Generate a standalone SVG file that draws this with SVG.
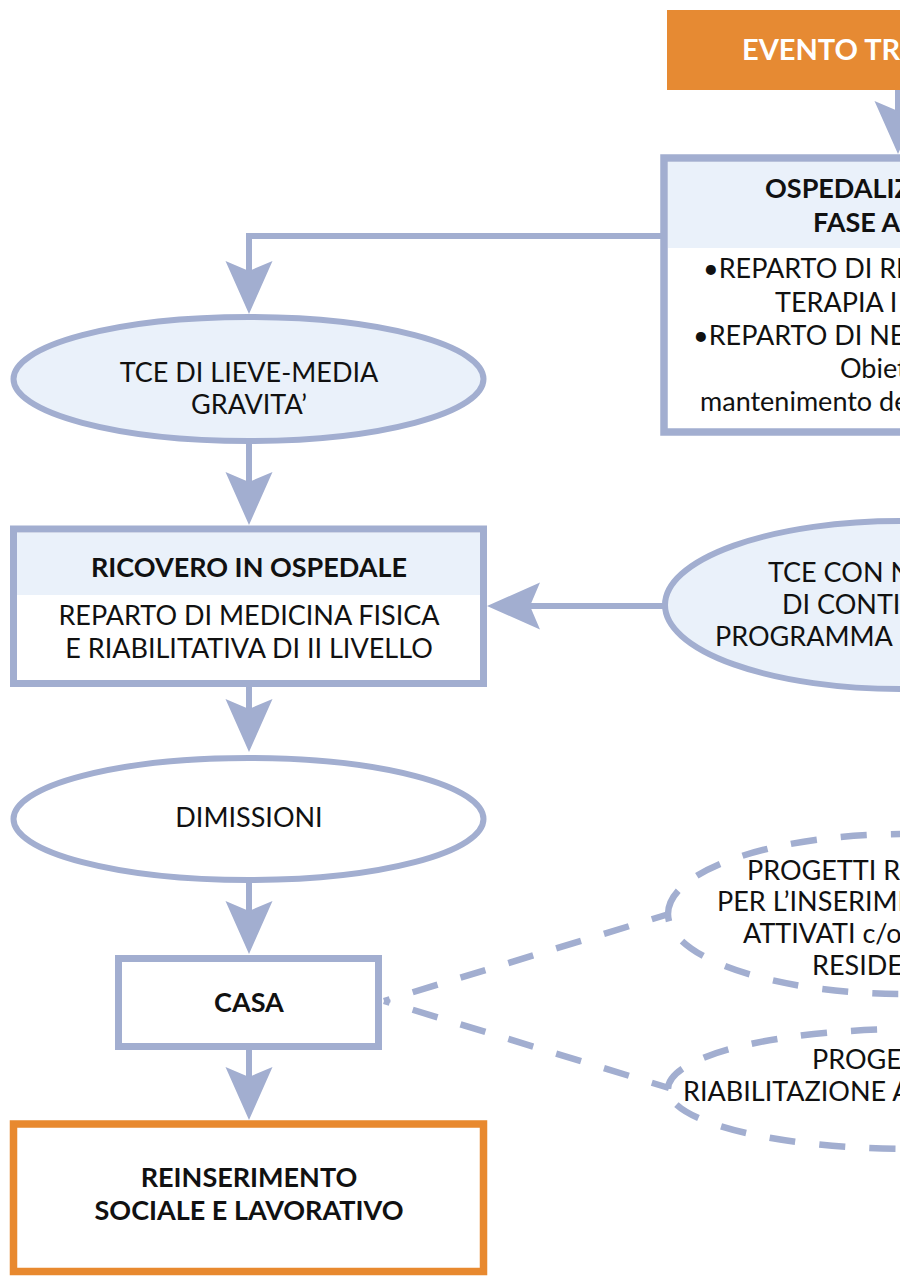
<svg xmlns="http://www.w3.org/2000/svg" xmlns:xlink="http://www.w3.org/1999/xlink" width="900" height="1276" viewBox="0 0 900 1276">
<style>
.t{font-family:Lato,"Liberation Sans","DejaVu Sans",sans-serif;font-size:27px;fill:#111}
.b{font-weight:700}
.m{text-anchor:middle}
.line{fill:none;stroke:#A2AED0;stroke-width:6}
.dash{fill:none;stroke:#A2AED0;stroke-width:6.5;stroke-dasharray:26 24}
.box{stroke:#A2AED0;stroke-width:7}
.ah{fill:#A2AED0}
</style>
<defs>
<path id="ah" d="M0,0 L-23.5,-53 L0,-43 L23.5,-53 Z"/>
</defs>
<rect width="900" height="1276" fill="#fff"/>

<g id="connectors">
  <path class="line" d="M898,90 V114"/>
  <use xlink:href="#ah" class="ah" transform="translate(898,154)"/>
  <path class="line" d="M664,236 H249 V275"/>
  <use xlink:href="#ah" class="ah" transform="translate(249,314)"/>
  <path class="line" d="M249,441 V485"/>
  <use xlink:href="#ah" class="ah" transform="translate(249,525)"/>
  <path class="line" d="M249,686 V712"/>
  <use xlink:href="#ah" class="ah" transform="translate(249,752)"/>
  <path class="line" d="M249,880 V914"/>
  <use xlink:href="#ah" class="ah" transform="translate(249,954)"/>
  <path class="line" d="M249,1050 V1080"/>
  <use xlink:href="#ah" class="ah" transform="translate(249,1120)"/>
  <path class="line" d="M665,606 H525"/>
  <use xlink:href="#ah" class="ah" transform="translate(487,606) rotate(90)"/>
  <path class="dash" style="stroke-dashoffset:20" d="M384,1001 L669,914"/>
  <path class="dash" style="stroke-dashoffset:20" d="M384,1001 L669,1088"/>
</g>

<g id="evento">
  <rect x="667" y="10" width="260" height="80" fill="#E68A33"/>
  <text class="t b" x="742" y="60" style="fill:#fff;font-size:29px">EVENTO TR</text>
</g>

<g id="ospedalizzazione">
  <rect class="box" x="664" y="158" width="300" height="274" fill="#fff" style="stroke-width:7.5"/>
  <rect x="668" y="162" width="240" height="86" fill="#EAF1FA"/>
  <text class="t b" x="765" y="198">OSPEDALIZ</text>
  <text class="t b" x="813" y="232">FASE A</text>
  <text class="t" x="703" y="278">•REPARTO DI RI</text>
  <text class="t" x="775" y="312">TERAPIA I</text>
  <text class="t" x="693" y="345">•REPARTO DI NE</text>
  <text class="t" x="840" y="378">Obiet</text>
  <text class="t" x="700" y="411">mantenimento de</text>
</g>

<g id="tce-lieve">
  <ellipse class="box" cx="248.5" cy="379" rx="235" ry="62" fill="#EAF1FA" style="stroke-width:6"/>
  <text class="t m" x="249" y="382">TCE DI LIEVE-MEDIA</text>
  <text class="t m" x="249" y="414">GRAVITA’</text>
</g>

<g id="ricovero">
  <rect class="box" x="13.5" y="529" width="470" height="154.5" fill="#fff"/>
  <rect x="17" y="533" width="463" height="62" fill="#EAF1FA"/>
  <text class="t b m" x="249" y="577">RICOVERO IN OSPEDALE</text>
  <text class="t m" x="249" y="625">REPARTO DI MEDICINA FISICA</text>
  <text class="t m" x="249" y="658">E RIABILITATIVA DI II LIVELLO</text>
</g>

<g id="tce-continuita">
  <ellipse class="box" cx="900" cy="605" rx="235" ry="84" fill="#EAF1FA" style="stroke-width:6"/>
  <text class="t" x="768" y="582">TCE CON N</text>
  <text class="t" x="782" y="614">DI CONTI</text>
  <text class="t" x="715" y="646">PROGRAMMA</text>
</g>

<g id="dimissioni">
  <ellipse class="box" cx="248.5" cy="819" rx="235" ry="61" fill="#fff" style="stroke-width:6"/>
  <text class="t m" x="249" y="827">DIMISSIONI</text>
</g>

<g id="casa">
  <rect class="box" x="118.5" y="958.5" width="260" height="88" fill="#fff"/>
  <text class="t b m" x="249" y="1012">CASA</text>
</g>

<g id="progetti-inserimento">
  <path class="dash" d="M668,914 A237,80 0 1 1 1142,914 A237,80 0 1 1 668,914 Z"/>
  <text class="t" x="747" y="880">PROGETTI RI</text>
  <text class="t" x="717" y="911">PER L’INSERIME</text>
  <text class="t" x="743" y="943">ATTIVATI c/o</text>
  <text class="t" x="812" y="975">RESIDE</text>
</g>

<g id="progetti-riabilitazione">
  <path class="dash" d="M668,1089 A244,60 0 1 1 1156,1089 A244,60 0 1 1 668,1089 Z"/>
  <text class="t" x="812" y="1069">PROGE</text>
  <text class="t" x="683" y="1101">RIABILITAZIONE A</text>
</g>

<g id="reinserimento">
  <rect x="13.5" y="1124" width="470" height="147.5" fill="#fff" stroke="#E8892F" stroke-width="7.5"/>
  <text class="t b m" x="249" y="1187">REINSERIMENTO</text>
  <text class="t b m" x="249" y="1220">SOCIALE E LAVORATIVO</text>
</g>
</svg>
